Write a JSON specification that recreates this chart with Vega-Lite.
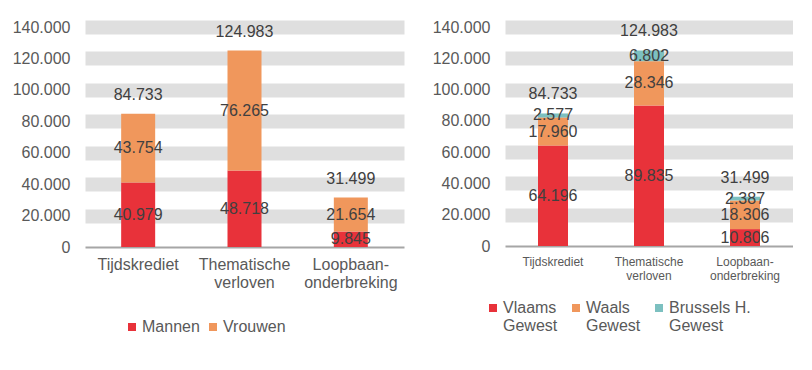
{
  "$schema": "https://vega.github.io/schema/vega-lite/v6.json",
  "padding": {"left": 12, "top": 19, "right": 0, "bottom": 0},
  "background": "white",
  "spacing": 101,
  "bounds": "flush",
  "resolve": {"scale": {"x": "independent", "y": "independent", "color": "independent"}},
  "config": {
    "font": "Liberation Sans",
    "view": {"stroke": null},
    "locale": {"number": {"decimal": ",", "thousands": ".", "grouping": [3], "currency": ["€", ""]}},
    "axisY": {"ticks": false, "domain": false, "labelFontSize": 16, "labelColor": "#595959", "labelPadding": 15, "gridWidth": 14, "gridColor": "#dfdfdf", "grid": true},
    "axisX": {"ticks": false, "labelAngle": 0, "domainColor": "#a6a6a6", "domainWidth": 2, "labelColor": "#595959", "grid": false},
    "legend": {"symbolType": "square", "symbolSize": 64, "labelFontSize": 16, "labelColor": "#595959", "symbolStrokeWidth": 0, "labelOffset": 2}
  },
  "hconcat": [
    {
      "width": 319,
      "height": 220,
      "data": {"values": [
        {"cat": "Tijdskrediet", "series": "Mannen", "value": 40979},
        {"cat": "Tijdskrediet", "series": "Vrouwen", "value": 43754},
        {"cat": "Thematische verloven", "series": "Mannen", "value": 48718},
        {"cat": "Thematische verloven", "series": "Vrouwen", "value": 76265},
        {"cat": "Loopbaan-onderbreking", "series": "Mannen", "value": 9845},
        {"cat": "Loopbaan-onderbreking", "series": "Vrouwen", "value": 21654}
      ]},
      "transform": [{"stack": "value", "groupby": ["cat"], "as": ["v0", "v1"]}],
      "encoding": {
        "x": {"field": "cat", "type": "nominal", "sort": null, "title": null,
          "scale": {"paddingInner": 0, "paddingOuter": 0},
          "axis": {"labelFontSize": 16, "labelPadding": 9, "labelLineHeight": 18,
            "labelExpr": "datum.label == 'Thematische verloven' ? ['Thematische', 'verloven'] : datum.label == 'Loopbaan-onderbreking' ? ['Loopbaan-', 'onderbreking'] : datum.label"}}
      },
      "layer": [
        {
          "mark": {"type": "bar", "width": 34},
          "encoding": {
            "y": {"field": "v0", "type": "quantitative", "title": null,
              "scale": {"domain": [0, 140000], "nice": false},
              "axis": {"values": [0, 20000, 40000, 60000, 80000, 100000, 120000, 140000], "format": ",d", "grid": true,
                "gridOpacity": {"condition": {"test": "datum.value === 0", "value": 0}, "value": 1}}},
            "y2": {"field": "v1"},
            "color": {"field": "series", "type": "nominal", "title": null,
              "scale": {"domain": ["Mannen", "Vrouwen"], "range": ["#e8323a", "#f0975c"]},
              "legend": {"orient": "none", "direction": "horizontal", "legendX": 39, "legendY": 292, "columnPadding": 5}}
          }
        },
        {
          "transform": [
            {"fold": ["v0", "v1"], "as": ["edge", "pos"]},
            {"aggregate": [{"op": "mean", "field": "pos", "as": "mid"}], "groupby": ["cat", "series", "value"]}
          ],
          "mark": {"type": "text", "fontSize": 16, "color": "#404040"},
          "encoding": {
            "y": {"field": "mid", "type": "quantitative", "title": null,
              "axis": {"values": [0, 20000, 40000, 60000, 80000, 100000, 120000, 140000], "format": ",d", "grid": true,
                "gridOpacity": {"condition": {"test": "datum.value === 0", "value": 0}, "value": 1}}},
            "text": {"field": "value", "type": "quantitative", "format": ",d"}
          }
        },
        {
          "transform": [{"aggregate": [{"op": "sum", "field": "value", "as": "total"}], "groupby": ["cat"]}],
          "mark": {"type": "text", "fontSize": 16, "color": "#404040", "dy": -19},
          "encoding": {
            "y": {"field": "total", "type": "quantitative", "title": null,
              "axis": {"values": [0, 20000, 40000, 60000, 80000, 100000, 120000, 140000], "format": ",d", "grid": true,
                "gridOpacity": {"condition": {"test": "datum.value === 0", "value": 0}, "value": 1}}},
            "text": {"field": "total", "type": "quantitative", "format": ",d"}
          }
        }
      ]
    },
    {
      "width": 288,
      "height": 219,
      "data": {"values": [
        {"cat": "Tijdskrediet", "series": "Vlaams Gewest", "value": 64196},
        {"cat": "Tijdskrediet", "series": "Waals Gewest", "value": 17960},
        {"cat": "Tijdskrediet", "series": "Brussels H. Gewest", "value": 2577},
        {"cat": "Thematische verloven", "series": "Vlaams Gewest", "value": 89835},
        {"cat": "Thematische verloven", "series": "Waals Gewest", "value": 28346},
        {"cat": "Thematische verloven", "series": "Brussels H. Gewest", "value": 6802},
        {"cat": "Loopbaan-onderbreking", "series": "Vlaams Gewest", "value": 10806},
        {"cat": "Loopbaan-onderbreking", "series": "Waals Gewest", "value": 18306},
        {"cat": "Loopbaan-onderbreking", "series": "Brussels H. Gewest", "value": 2387}
      ]},
      "transform": [{"stack": "value", "groupby": ["cat"], "as": ["v0", "v1"]}],
      "encoding": {
        "x": {"field": "cat", "type": "nominal", "sort": null, "title": null,
          "scale": {"paddingInner": 0, "paddingOuter": 0},
          "axis": {"labelFontSize": 12, "labelPadding": 10, "labelLineHeight": 14,
            "labelExpr": "datum.label == 'Thematische verloven' ? ['Thematische', 'verloven'] : datum.label == 'Loopbaan-onderbreking' ? ['Loopbaan-', 'onderbreking'] : datum.label"}}
      },
      "layer": [
        {
          "mark": {"type": "bar", "width": 30},
          "encoding": {
            "y": {"field": "v0", "type": "quantitative", "title": null,
              "scale": {"domain": [0, 140000], "nice": false},
              "axis": {"values": [0, 20000, 40000, 60000, 80000, 100000, 120000, 140000], "format": ",d", "grid": true,
                "gridOpacity": {"condition": {"test": "datum.value === 0", "value": 0}, "value": 1}}},
            "y2": {"field": "v1"},
            "color": {"field": "series", "type": "nominal", "title": null,
              "scale": {"domain": ["Vlaams Gewest", "Waals Gewest", "Brussels H. Gewest"], "range": ["#e8323a", "#f0975c", "#7cc0c0"]},
              "legend": {"orient": "none", "direction": "horizontal", "legendX": -20, "legendY": 273, "labelLineHeight": 18, "columnPadding": 10,
                "labelExpr": "datum.label == 'Brussels H. Gewest' ? ['Brussels H.', 'Gewest'] : split(datum.label, ' ')"}}
          }
        },
        {
          "transform": [
            {"fold": ["v0", "v1"], "as": ["edge", "pos"]},
            {"aggregate": [{"op": "mean", "field": "pos", "as": "mid"}], "groupby": ["cat", "series", "value"]}
          ],
          "mark": {"type": "text", "fontSize": 16, "color": "#404040"},
          "encoding": {
            "y": {"field": "mid", "type": "quantitative", "title": null,
              "axis": {"values": [0, 20000, 40000, 60000, 80000, 100000, 120000, 140000], "format": ",d", "grid": true,
                "gridOpacity": {"condition": {"test": "datum.value === 0", "value": 0}, "value": 1}}},
            "text": {"field": "value", "type": "quantitative", "format": ",d"}
          }
        },
        {
          "transform": [{"aggregate": [{"op": "sum", "field": "value", "as": "total"}], "groupby": ["cat"]}],
          "mark": {"type": "text", "fontSize": 16, "color": "#404040", "dy": -19},
          "encoding": {
            "y": {"field": "total", "type": "quantitative", "title": null,
              "axis": {"values": [0, 20000, 40000, 60000, 80000, 100000, 120000, 140000], "format": ",d", "grid": true,
                "gridOpacity": {"condition": {"test": "datum.value === 0", "value": 0}, "value": 1}}},
            "text": {"field": "total", "type": "quantitative", "format": ",d"}
          }
        }
      ]
    }
  ]
}
